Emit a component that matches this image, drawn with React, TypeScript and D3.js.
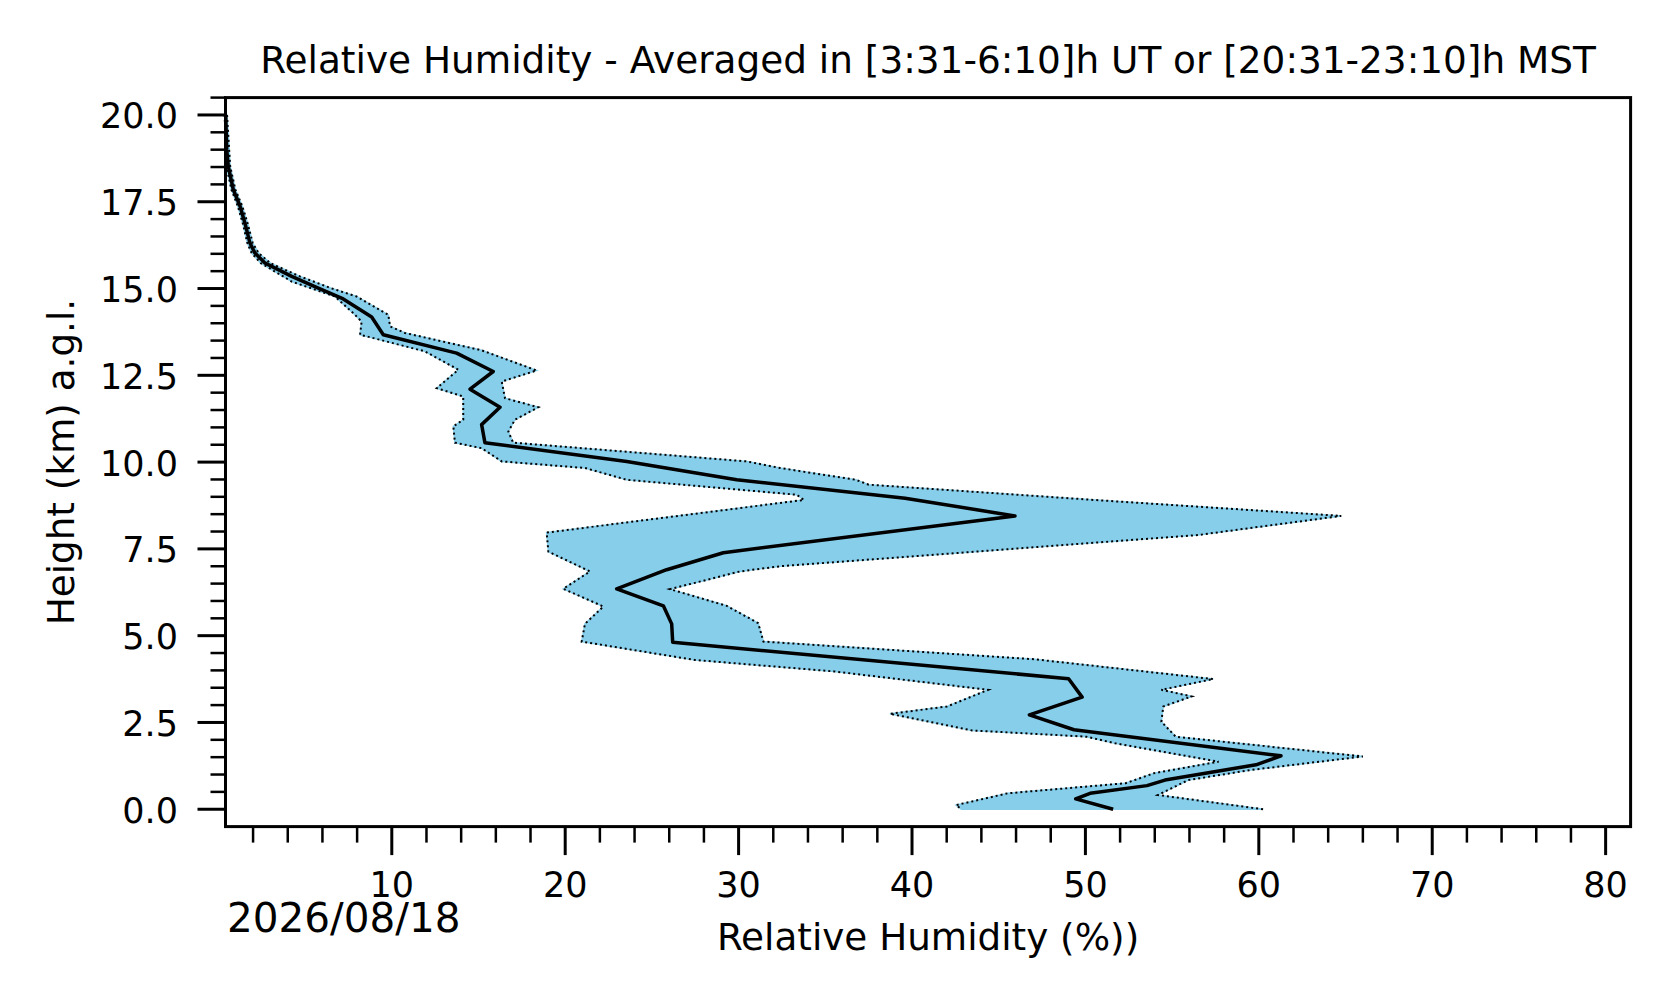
import React, { useEffect, useRef } from 'react'
import * as d3 from 'd3'

// profile of the mean relative humidity: [height km, RH %]
const meanProfile: [number, number][] = [
    [20.0, 0.42], [19.0, 0.48], [18.52, 0.57], [17.85, 0.86], [17.37, 1.25],
    [16.89, 1.53], [16.31, 1.82], [16.02, 2.11], [15.73, 2.7], [15.35, 4.23],
    [15.01, 5.76], [14.7, 7.2], [14.18, 8.84], [13.67, 9.51], [13.14, 13.74],
    [12.61, 15.85], [12.1, 14.51], [11.58, 16.24], [11.08, 15.18], [10.56, 15.37],
    [10.02, 23.55], [9.49, 29.89], [8.96, 39.6], [8.45, 45.94], [7.39, 29.12],
    [6.9, 25.85], [6.35, 22.97], [5.86, 25.66], [5.34, 26.14], [4.81, 26.2],
    [3.76, 49.03], [3.23, 49.81], [2.72, 46.77], [2.29, 49.34], [1.54, 61.28],
    [1.28, 59.84], [0.84, 54.59], [0.68, 53.55], [0.46, 50.27], [0.3, 49.44],
    [0.0, 51.6],
]

// right edge of the spread band
const upperEdge: [number, number][] = [
    [20.0, 0.5], [18.52, 0.68], [17.85, 0.98], [17.37, 1.38], [16.89, 1.68],
    [16.31, 1.98], [16.02, 2.32], [15.73, 3.0], [15.35, 4.7], [15.01, 6.5],
    [14.77, 7.97], [14.24, 9.8], [13.91, 9.9], [13.72, 10.76], [13.22, 15.18],
    [12.64, 18.35], [12.32, 16.34], [11.84, 16.53], [11.58, 18.45], [11.22, 17.1],
    [10.88, 16.72], [10.56, 17.0], [10.02, 30.47], [9.83, 32.39], [9.49, 36.76],
    [9.35, 37.5], [8.9, 50.8], [8.45, 64.75], [7.9, 56.5], [7.0, 32.4],
    [6.85, 30.08], [6.34, 26.04], [5.86, 29.31], [5.36, 31.13], [4.83, 31.43],
    [4.32, 47.07], [3.75, 57.37], [3.44, 54.38], [3.25, 56.13], [2.96, 54.49],
    [2.52, 54.38], [2.09, 55.21], [1.52, 66.0], [1.13, 59.53], [0.84, 55.93],
    [0.41, 54.18], [0.0, 60.25],
]

// left edge of the spread band
const lowerEdge: [number, number][] = [
    [20.0, 0.36], [18.52, 0.47], [17.85, 0.75], [17.37, 1.12], [16.89, 1.4],
    [16.31, 1.67], [16.02, 1.92], [15.73, 2.45], [15.2, 4.23], [14.77, 6.72],
    [14.29, 7.78], [14.05, 8.26], [13.67, 8.17], [13.19, 11.91], [12.66, 13.84],
    [12.13, 12.59], [11.89, 14.12], [11.22, 14.12], [11.03, 13.55], [10.56, 13.64],
    [10.4, 15.18], [10.02, 16.34], [9.83, 21.14], [9.49, 23.55], [9.06, 33.35],
    [8.91, 33.77], [7.97, 18.93], [7.42, 19.03], [6.85, 21.43], [6.35, 19.89],
    [5.84, 22.2], [5.34, 21.14], [4.83, 20.95], [4.3, 27.47], [3.97, 35.5],
    [3.44, 44.39], [3.25, 43.46], [2.96, 42.02], [2.75, 38.73], [2.27, 43.46],
    [2.09, 50.06], [1.9, 51.71], [1.37, 57.68], [1.04, 53.97], [0.75, 52.32],
    [0.46, 45.53], [0.12, 42.54], [0.0, 42.85],
]

const xMajor = [10, 20, 30, 40, 50, 60, 70, 80]
const yMajor = [0, 2.5, 5, 7.5, 10, 12.5, 15, 17.5, 20]

const titleText = 'Relative Humidity - Averaged in [3:31-6:10]h UT or [20:31-23:10]h MST'
const xLabel = 'Relative Humidity (%))'
const yLabel = 'Height (km) a.g.l.'
const dateText = '2026/08/18'

const W = 1676
const H = 1003
const font = '"DejaVu Sans", sans-serif'

const App = () => {
    const svgRef = useRef<SVGSVGElement>(null)

    useEffect(() => {
        const svg = d3.select(svgRef.current)
        svg.selectAll('*').remove()

        const left = 225.5, right = 1630.6, top = 97.6, bottom = 826.6
        const x = d3.scaleLinear([0.41, 81.44], [left, right])
        const y = d3.scaleLinear([-0.5, 20.5], [bottom, top])

        const line = d3.line<[number, number]>().x(d => x(d[1])).y(d => y(d[0]))

        // band polygon: right edge top->bottom then left edge bottom->top
        const poly: [number, number][] = [...upperEdge, ...lowerEdge.slice().reverse()]
        svg.append('path')
            .attr('d', line(poly) + 'Z')
            .attr('fill', '#87ceeb')
            .attr('stroke', '#87ceeb')
            .attr('stroke-width', 1.5)

        for (const edge of [upperEdge, lowerEdge]) {
            svg.append('path')
                .attr('d', line(edge))
                .attr('fill', 'none')
                .attr('stroke', '#000')
                .attr('stroke-width', 2)
                .attr('stroke-dasharray', '2 3')
        }

        svg.append('path')
            .attr('d', line(meanProfile))
            .attr('fill', 'none')
            .attr('stroke', '#000')
            .attr('stroke-width', 3.5)
            .attr('stroke-linejoin', 'round')

        // frame
        svg.append('rect')
            .attr('x', left).attr('y', top)
            .attr('width', right - left).attr('height', bottom - top)
            .attr('fill', 'none').attr('stroke', '#000').attr('stroke-width', 3)

        // x ticks
        const xMinor = d3.range(2, 81, 2).filter(v => v % 10 !== 0)
        const gx = svg.append('g')
        gx.selectAll('line.minor').data(xMinor).join('line')
            .attr('x1', d => x(d)).attr('x2', d => x(d))
            .attr('y1', bottom).attr('y2', bottom + 16)
            .attr('stroke', '#000').attr('stroke-width', 2.5)
        gx.selectAll('line.major').data(xMajor).join('line')
            .attr('x1', d => x(d)).attr('x2', d => x(d))
            .attr('y1', bottom).attr('y2', bottom + 28.5)
            .attr('stroke', '#000').attr('stroke-width', 3)
        gx.selectAll('text').data(xMajor).join('text')
            .attr('x', d => x(d)).attr('y', 896.5)
            .attr('text-anchor', 'middle')
            .attr('font-family', font).attr('font-size', 35)
            .text(d => d3.format('d')(d))

        // y ticks
        const yMinor = d3.range(0, 20.6, 0.5).filter(v => v % 2.5 !== 0)
        const gy = svg.append('g')
        gy.selectAll('line.minor').data(yMinor).join('line')
            .attr('x1', left - 15).attr('x2', left)
            .attr('y1', d => y(d)).attr('y2', d => y(d))
            .attr('stroke', '#000').attr('stroke-width', 2.5)
        gy.selectAll('line.major').data(yMajor).join('line')
            .attr('x1', left - 28).attr('x2', left)
            .attr('y1', d => y(d)).attr('y2', d => y(d))
            .attr('stroke', '#000').attr('stroke-width', 3)
        gy.selectAll('text').data(yMajor).join('text')
            .attr('x', 178).attr('y', d => y(d) + 13.5)
            .attr('text-anchor', 'end')
            .attr('font-family', font).attr('font-size', 35)
            .text(d => d3.format('.1f')(d))

        const cx = (left + right) / 2
        svg.append('text')
            .attr('x', cx).attr('y', 73)
            .attr('text-anchor', 'middle')
            .attr('font-family', font).attr('font-size', 37.4)
            .text(titleText)

        svg.append('text')
            .attr('x', cx).attr('y', 950)
            .attr('text-anchor', 'middle')
            .attr('font-family', font).attr('font-size', 37.3)
            .text(xLabel)

        svg.append('text')
            .attr('transform', `translate(74, ${(top + bottom) / 2}) rotate(-90)`)
            .attr('text-anchor', 'middle')
            .attr('font-family', font).attr('font-size', 37.3)
            .text(yLabel)

        svg.append('text')
            .attr('x', 227).attr('y', 932)
            .attr('font-family', font).attr('font-size', 40.5)
            .text(dateText)
    }, [])

    return (
        <svg
            ref={svgRef}
            width={W}
            height={H}
            style={{ position: 'absolute', left: 0, top: 0, background: '#fff', display: 'block' }}
        />
    )
}

export default App
